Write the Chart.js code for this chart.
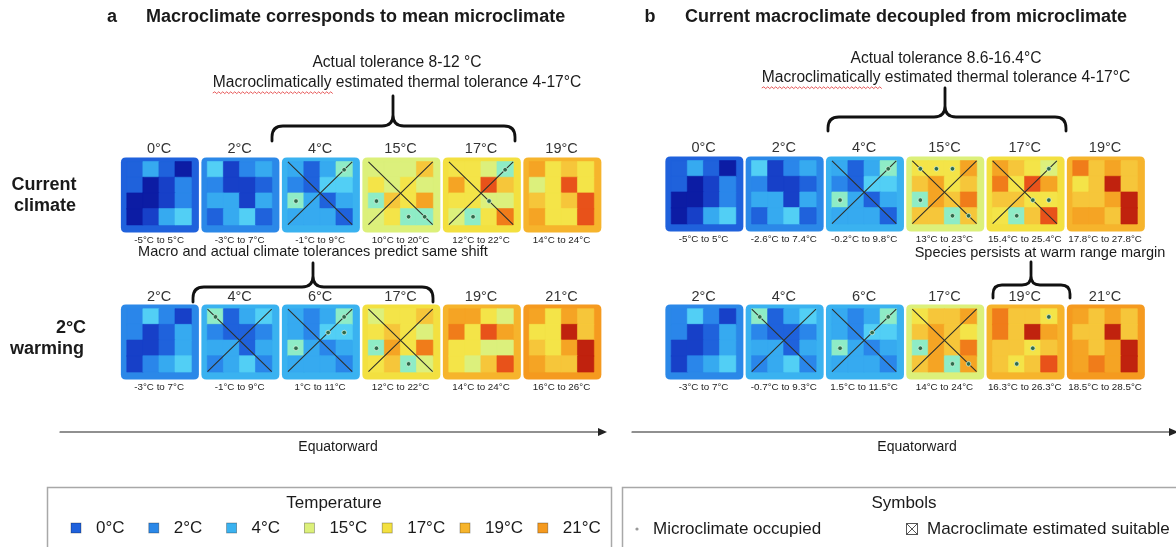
<!DOCTYPE html>
<html><head><meta charset="utf-8">
<script src="https://cdn.jsdelivr.net/npm/chart.js@4"></script>
<style>html,body{margin:0;padding:0;background:#fff;overflow:hidden}</style>
</head><body>
<canvas id="c" width="1176" height="547" style="display:block;width:1176px;height:547px"></canvas>
<script>
// ---------- DATA ----------
// colour classes of microclimate cells (index into CELL_COLORS)
const CELL_COLORS = ['#0c1ca4','#1740c8','#1f62dc','#2a86ea','#36aaf0','#52cff5','#8eecc6',
                     '#dcf07c','#f4e448','#f6c63a','#f5a424','#f07c1a','#e8521a','#c0220e'];
const FRAME_COLORS = {0:'#1f61dc',2:'#2b88e8',4:'#3ab2f0',15:'#dcf07a',17:'#f3e040',19:'#f6b42c',21:'#f59a1f'};
const LEGEND_TEMPS = ['0°C','2°C','4°C','15°C','17°C','19°C','21°C'];
const LEGEND_KEYS = [0,2,4,15,17,19,21];

// panel (a) current climate
const tempsA1  = ['0°C','2°C','4°C','15°C','17°C','19°C'];
const rangesA1 = ['-5°C to 5°C','-3°C to 7°C','-1°C to 9°C','10°C to 20°C','12°C to 22°C','14°C to 24°C'];
const frameA1  = [0,2,4,15,17,19];
const crossA1  = [0,0,1,1,1,0];
const cellsA1 = [
  [2,4,2,0, 2,0,1,3, 0,0,1,3, 0,1,4,5],
  [5,1,3,4, 3,1,1,2, 4,4,1,4, 2,4,5,2],
  [4,2,4,6, 3,2,5,5, 6,4,2,4, 4,4,4,2],
  [7,7,7,9, 8,7,8,7, 6,9,8,10, 7,8,6,6],
  [8,8,7,6, 10,8,12,9, 8,8,7,7, 7,6,8,11],
  [10,8,9,8, 7,8,12,8, 9,8,9,12, 10,8,8,12]
];
const dotsA1 = [[],[],[[0,3],[2,0]],[[2,0],[3,2],[3,3]],[[0,3],[2,2],[3,1]],[]];

// panel (a) 2°C warming
const tempsA2  = ['2°C','4°C','6°C','17°C','19°C','21°C'];
const rangesA2 = ['-3°C to 7°C','-1°C to 9°C','1°C to 11°C','12°C to 22°C','14°C to 24°C','16°C to 26°C'];
const frameA2  = [2,4,4,17,19,21];
const crossA2  = [0,1,1,1,0,0];
const cellsA2 = [
  [3,5,3,1, 3,1,2,4, 1,1,2,4, 1,3,4,5],
  [6,2,4,5, 3,2,2,3, 4,4,2,4, 3,4,5,3],
  [4,3,4,6, 4,3,5,5, 6,4,3,4, 4,4,4,3],
  [7,8,8,9, 8,9,8,7, 6,10,8,11, 8,9,6,7],
  [10,10,8,7, 11,8,12,10, 8,8,7,7, 8,7,9,12],
  [10,8,10,9, 8,8,13,9, 9,8,10,13, 10,9,9,13]
];
const dotsA2 = [[],[[0,0]],[[0,3],[1,2],[1,3],[2,0]],[[2,0],[3,2]],[],[]];

// panel (b) current climate
const tempsB1  = ['0°C','2°C','4°C','15°C','17°C','19°C'];
const rangesB1 = ['-5°C to 5°C','-2.6°C to 7.4°C','-0.2°C to 9.8°C','13°C to 23°C','15.4°C to 25.4°C','17.8°C to 27.8°C'];
const frameB1  = [0,2,4,15,17,19];
const crossB1  = [0,0,1,1,1,0];
const cellsB1 = [
  [2,4,2,0, 2,0,1,3, 0,0,1,3, 0,1,4,5],
  [5,1,3,4, 3,1,1,2, 4,4,1,4, 2,4,5,2],
  [4,2,4,6, 3,2,5,5, 6,4,2,4, 4,4,4,2],
  [8,8,8,10, 9,10,8,9, 6,10,9,11, 9,9,6,9],
  [10,9,8,7, 11,8,12,10, 9,9,8,8, 8,6,9,12],
  [11,9,10,9, 8,9,13,9, 9,9,10,13, 10,10,9,13]
];
const dotsB1 = [[],[],[[0,3],[2,0]],[[0,0],[0,1],[0,2],[2,0],[3,2],[3,3]],[[0,3],[2,2],[2,3],[3,1]],[]];

// panel (b) 2°C warming
const tempsB2  = ['2°C','4°C','6°C','17°C','19°C','21°C'];
const rangesB2 = ['-3°C to 7°C','-0.7°C to 9.3°C','1.5°C to 11.5°C','14°C to 24°C','16.3°C to 26.3°C','18.5°C to 28.5°C'];
const frameB2  = [2,4,4,15,19,21];
const crossB2  = [0,1,1,1,0,0];
const cellsB2 = [
  [3,5,3,1, 3,1,2,4, 1,1,2,4, 1,3,4,5],
  [6,2,4,5, 3,2,2,3, 4,4,2,4, 3,4,5,3],
  [4,3,4,6, 4,3,5,5, 6,4,3,4, 4,4,4,3],
  [8,9,9,10, 9,10,9,8, 6,10,9,11, 9,10,6,10],
  [11,9,9,8, 11,9,13,10, 9,9,8,9, 9,8,9,12],
  [10,9,10,9, 9,9,13,9, 10,9,10,13, 10,11,10,13]
];
const dotsB2 = [[],[[0,0]],[[0,3],[1,2],[2,0]],[[2,0],[3,2],[3,3]],[[0,3],[2,2],[3,1]],[]];

// ---------- LAYOUT ----------
const W = 1176, H = 547;
const PW = 78, PH = 75, GX = 6.2, GY = 4.7, CELL = 16.4;
const groups = [
  {x0:111, pitch:82.2, y0:152, temps:tempsA1, ranges:rangesA1, frame:frameA1, cross:crossA1, cells:cellsA1, dots:dotsA1},
  {x0:111, pitch:82.2, y0:306, temps:tempsA2, ranges:rangesA2, frame:frameA2, cross:crossA2, cells:cellsA2, dots:dotsA2},
  {x0:667, pitch:82,   y0:151, temps:tempsB1, ranges:rangesB1, frame:frameB1, cross:crossB1, cells:cellsB1, dots:dotsB1},
  {x0:667, pitch:82,   y0:306, temps:tempsB2, ranges:rangesB2, frame:frameB2, cross:crossB2, cells:cellsB2, dots:dotsB2}
];

const cellPts = [], dotPts = [], crossPts = [];
groups.forEach(g => {
  g.cells.forEach((grid, i) => {
    const gx = g.x0 + i * g.pitch + GX, gy = g.y0 + GY;
    grid.forEach((v, k) => {
      const r = Math.floor(k / 4), c = k % 4;
      cellPts.push({x: gx + (c + 0.5) * CELL, y: gy + (r + 0.5) * CELL, v});
    });
    g.dots[i].forEach(([r, c]) => dotPts.push({x: gx + (c + 0.5) * CELL, y: gy + (r + 0.5) * CELL}));
    if (g.cross[i]) {
      const s = 4 * CELL;
      crossPts.push({x: gx, y: gy}, {x: gx + s, y: gy + s}, {x: gx, y: null},
                    {x: gx + s, y: gy}, {x: gx, y: gy + s}, {x: gx, y: null});
    }
  });
});

const FONT = '"Liberation Sans", Arial, sans-serif';

function brace(ctx, cx, xL, xR, yTip, yMid, yEnd, r) {
  ctx.beginPath();
  ctx.moveTo(xL, yEnd);
  ctx.lineTo(xL, yMid + r);
  ctx.quadraticCurveTo(xL, yMid, xL + r, yMid);
  ctx.lineTo(cx - r, yMid);
  ctx.quadraticCurveTo(cx, yMid, cx, yMid - r);
  ctx.lineTo(cx, yTip);
  ctx.moveTo(xR, yEnd);
  ctx.lineTo(xR, yMid + r);
  ctx.quadraticCurveTo(xR, yMid, xR - r, yMid);
  ctx.lineTo(cx + r, yMid);
  ctx.quadraticCurveTo(cx, yMid, cx, yMid - r);
  ctx.stroke();
}
function text(ctx, s, x, y, size, opts = {}) {
  ctx.font = (opts.bold ? 'bold ' : '') + size + 'px ' + FONT;
  ctx.fillStyle = opts.color || '#1a1a1a';
  ctx.textAlign = opts.align || 'center';
  ctx.textBaseline = 'middle';
  ctx.fillText(s, x, y);
}
function wavy(ctx, x0, x1, y) {
  ctx.save(); ctx.strokeStyle = '#e03030'; ctx.lineWidth = 0.8; ctx.beginPath();
  let up = true; ctx.moveTo(x0, y);
  for (let x = x0; x < x1; x += 2) { ctx.lineTo(x + 2, up ? y - 1.2 : y + 0.6); up = !up; }
  ctx.stroke(); ctx.restore();
}
function arrow(ctx, x0, x1, y) {
  ctx.save(); ctx.strokeStyle = '#222'; ctx.fillStyle = '#222'; ctx.lineWidth = 1.2;
  ctx.beginPath(); ctx.moveTo(x0, y); ctx.lineTo(x1 - 6, y); ctx.stroke();
  ctx.beginPath(); ctx.moveTo(x1, y); ctx.lineTo(x1 - 9, y - 4); ctx.lineTo(x1 - 9, y + 4); ctx.closePath(); ctx.fill();
  ctx.restore();
}
function rrect(ctx, x, y, w, h, r) {
  ctx.beginPath();
  ctx.moveTo(x + r, y); ctx.lineTo(x + w - r, y); ctx.quadraticCurveTo(x + w, y, x + w, y + r);
  ctx.lineTo(x + w, y + h - r); ctx.quadraticCurveTo(x + w, y + h, x + w - r, y + h);
  ctx.lineTo(x + r, y + h); ctx.quadraticCurveTo(x, y + h, x, y + h - r);
  ctx.lineTo(x, y + r); ctx.quadraticCurveTo(x, y, x + r, y); ctx.closePath();
}

const decor = {
  id: 'decor',
  beforeDatasetsDraw(chart) {
    const ctx = chart.ctx, xs = chart.scales.x, ys = chart.scales.y;
    ctx.save();
    groups.forEach(g => g.frame.forEach((f, i) => {
      const x = xs.getPixelForValue(g.x0 + i * g.pitch), y = ys.getPixelForValue(g.y0);
      ctx.fillStyle = FRAME_COLORS[f];
      rrect(ctx, x, y, PW, PH, 5); ctx.fill();
    }));
    ctx.restore();
  },
  afterDraw(chart) {
    const ctx = chart.ctx, xs = chart.scales.x, ys = chart.scales.y;
    ctx.save();
    // titles
    text(ctx, 'a', 112, 17, 18, {bold: true});
    text(ctx, 'Macroclimate corresponds to mean microclimate', 146, 17, 18, {bold: true, align: 'left'});
    text(ctx, 'b', 650, 17, 18, {bold: true});
    text(ctx, 'Current macroclimate decoupled from microclimate', 685, 17, 18, {bold: true, align: 'left'});
    // annotations
    const AF = 15.6;
    text(ctx, 'Actual tolerance 8-12 °C', 397, 63, AF);
    const l2 = 'Macroclimatically estimated thermal tolerance 4-17°C';
    text(ctx, l2, 397, 83, AF);
    ctx.font = AF + 'px ' + FONT;
    let w2 = ctx.measureText(l2).width, w1 = ctx.measureText('Macroclimatically').width;
    wavy(ctx, 397 - w2 / 2, 397 - w2 / 2 + w1, 93);
    text(ctx, 'Actual tolerance 8.6-16.4°C', 946, 59, AF);
    text(ctx, l2, 946, 78, AF);
    wavy(ctx, 946 - w2 / 2, 946 - w2 / 2 + w1, 88);
    // braces
    ctx.strokeStyle = '#111'; ctx.lineWidth = 2.8; ctx.lineCap = 'round';
    brace(ctx, 393, 272, 515, 96, 126, 141, 11);
    brace(ctx, 313, 193, 433, 263, 287, 302, 11);
    brace(ctx, 945, 828, 1066, 88, 117, 131, 11);
    brace(ctx, 1031, 993, 1070, 262, 285, 298, 9);
    // row labels
    text(ctx, 'Current', 44, 185, 18, {bold: true});
    text(ctx, 'climate', 45, 206, 18, {bold: true});
    text(ctx, '2°C', 71, 328, 18, {bold: true});
    text(ctx, 'warming', 47, 349, 18, {bold: true});
    // panel labels
    groups.forEach(g => g.temps.forEach((t, i) => {
      const cx = xs.getPixelForValue(g.x0 + i * g.pitch + PW / 2);
      text(ctx, t, cx, ys.getPixelForValue(g.y0) - 8, 14.5, {color: '#333'});
      text(ctx, g.ranges[i], cx, ys.getPixelForValue(g.y0 + PH) + 11, 9.8, {color: '#222'});
    }));
    text(ctx, 'Macro and actual climate tolerances predict same shift', 313, 252, 14.5);
    text(ctx, 'Species persists at warm range margin', 1040, 253, 14.5);
    // arrows
    arrow(ctx, 60, 607, 432);
    arrow(ctx, 632, 1178, 432);
    text(ctx, 'Equatorward', 338, 447, 14);
    text(ctx, 'Equatorward', 917, 447, 14);
    // legend boxes
    ctx.strokeStyle = '#a8a8a8'; ctx.lineWidth = 1.5; ctx.lineCap = 'butt';
    ctx.strokeRect(47.5, 487.5, 564, 80);
    ctx.strokeRect(622.5, 487.5, 600, 80);
    text(ctx, 'Temperature', 334, 503, 17);
    LEGEND_TEMPS.forEach((t, i) => {
      const x = 76 + i * 77.8;
      ctx.fillStyle = FRAME_COLORS[LEGEND_KEYS[i]];
      ctx.fillRect(x - 5, 523, 10, 10);
      ctx.strokeStyle = 'rgba(0,0,0,0.35)'; ctx.lineWidth = 0.8; ctx.strokeRect(x - 5, 523, 10, 10);
      text(ctx, t, x + 20, 528.5, 17, {align: 'left'});
    });
    text(ctx, 'Symbols', 904, 503, 17);
    ctx.fillStyle = '#999'; ctx.beginPath(); ctx.arc(637, 529, 1.6, 0, Math.PI * 2); ctx.fill();
    text(ctx, 'Microclimate occupied', 653, 529, 17, {align: 'left'});
    ctx.strokeStyle = '#555'; ctx.lineWidth = 1;
    ctx.strokeRect(906.5, 523.5, 11, 11);
    ctx.beginPath(); ctx.moveTo(907, 524); ctx.lineTo(917, 534); ctx.moveTo(917, 524); ctx.lineTo(907, 534); ctx.stroke();
    text(ctx, 'Macroclimate estimated suitable', 927, 529, 17, {align: 'left'});
    ctx.restore();
  }
};

new Chart(document.getElementById('c'), {
  type: 'scatter',
  data: {
    datasets: [
      {label: 'Microclimate occupied', data: dotPts, pointStyle: 'circle', pointRadius: 2.3,
       backgroundColor: '#2f6a4c', borderColor: 'rgba(225,250,230,0.85)', borderWidth: 0.8},
      {type: 'line', label: 'Macroclimate estimated suitable', data: crossPts, showLine: true, spanGaps: false,
       pointRadius: 0, borderColor: '#2e302a', borderWidth: 1.1, fill: false},
      {label: 'Microclimate cells', data: cellPts, pointStyle: 'rect', pointRadius: CELL / Math.SQRT2,
       backgroundColor: c => CELL_COLORS[c.raw.v], borderColor: c => CELL_COLORS[c.raw.v], borderWidth: 0.6}
    ]
  },
  options: {
    responsive: false, animation: false, events: [],
    layout: {padding: 0},
    plugins: {legend: {display: false}, tooltip: {enabled: false}},
    scales: {
      x: {type: 'linear', min: 0, max: W, display: false},
      y: {type: 'linear', min: 0, max: H, reverse: true, display: false}
    }
  },
  plugins: [decor]
});
</script>
</body></html>
